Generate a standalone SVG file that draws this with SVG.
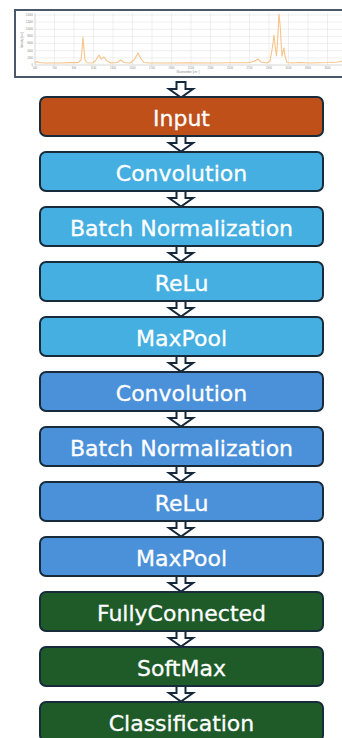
<svg xmlns="http://www.w3.org/2000/svg" width="342" height="738" viewBox="0 0 342 738">
  <defs>
    <style>
      .box { stroke: #172b3a; stroke-width: 2; }
      .lbl { font-family: "DejaVu Sans", "Liberation Sans", sans-serif; font-size: 22px; fill: #ffffff; stroke: #ffffff; stroke-width: 0.3; text-anchor: middle; }
      .inp { fill: #c0501a; }
      .b1 { fill: #45afe1; }
      .b2 { fill: #4b91d9; }
      .gr { fill: #1e5b28; }
      .arr { fill: #ffffff; stroke: #14283a; stroke-width: 2; stroke-linejoin: miter; }
      .grid { stroke: #e4e4e4; stroke-width: 0.6; fill: none; }
      .tick { font-family: "Liberation Sans", sans-serif; font-size: 2.6px; fill: #8a8a8a; text-anchor: middle; }
    </style>
    <path id="arrow" d="M-4.5,0 H4.5 V7 H12 L0,15.5 L-12,7 H-4.5 Z"/>
  </defs>

  <rect width="342" height="738" fill="#ffffff"/>

  <g id="spectrum">
    <rect x="15" y="10" width="340" height="67" fill="#ffffff" stroke="#4a5868" stroke-width="2"/>
    <g class="grid">
      <path d="M54.5,13V65M74,13V65M93.5,13V65M113,13V65M132.5,13V65M152,13V65M171.5,13V65M191,13V65M210.5,13V65M230,13V65M249.5,13V65M269,13V65M288.5,13V65M308,13V65M327.5,13V65"/>
      <path d="M35,15H342M35,22.1H342M35,29.3H342M35,36.4H342M35,43.6H342M35,50.7H342M35,57.9H342"/>
    </g>
    <path d="M35,13V65H342" fill="none" stroke="#bdbdbd" stroke-width="0.6"/>
    <polyline fill="none" stroke="#f7c489" stroke-width="1.1" stroke-linejoin="round"
      points="35,63 37,61.5 39,62.5 45,63 60,63 70,62.6 78,62.6 81,60 82,50 83,37 84,50 85,60 87,62.8 93,63 96,60 99,55 101,59 102,58.5 104,57 107,61 111,63 117,62.5 121,60 124,62.5 130,63 134,60 138,53 141,59 144,62.5 150,63 170,63 190,62.7 210,63 230,62.8 248,62.8 254,61.5 258,59 261,62 267,63 270,61 272,50 274,35 275,45 276.5,56 277.5,42 278.5,24 279,14 279.8,22 280.5,30 281.2,45 282,56 283,52 284,48 285,56 287,62.5 292,63 300,62.5 310,63 320,62.7 330,62.5 338,62 342,61"/>
    <g class="tick">
      <text x="35" y="69">500</text><text x="54.5" y="69">700</text><text x="74" y="69">900</text>
      <text x="93.5" y="69">1100</text><text x="113" y="69">1300</text><text x="132.5" y="69">1500</text>
      <text x="152" y="69">1700</text><text x="171.5" y="69">1900</text><text x="191" y="69">2100</text>
      <text x="210.5" y="69">2300</text><text x="230" y="69">2500</text><text x="249.5" y="69">2700</text>
      <text x="269" y="69">2900</text><text x="288.5" y="69">3100</text><text x="308" y="69">3300</text>
      <text x="327.5" y="69">3500</text>
      <text x="188" y="72.5">Wavenumber [cm⁻¹]</text>
    </g>
    <g class="tick" style="text-anchor:end">
      <text x="33" y="65.8">0</text><text x="33" y="58.7">2000</text><text x="33" y="51.5">4000</text>
      <text x="33" y="44.4">6000</text><text x="33" y="37.2">8000</text><text x="33" y="30.1">10000</text>
      <text x="33" y="22.9">12000</text><text x="33" y="15.8">14000</text>
    </g>
    <text class="tick" transform="translate(23,40) rotate(-90)">Intensity [a.u.]</text>
  </g>

  <g id="connectors" class="arr">
    <use href="#arrow" x="181" y="82"/>
    <use href="#arrow" x="181" y="136"/>
    <use href="#arrow" x="181" y="191"/>
    <use href="#arrow" x="181" y="246"/>
    <use href="#arrow" x="181" y="301"/>
    <use href="#arrow" x="181" y="356"/>
    <use href="#arrow" x="181" y="411"/>
    <use href="#arrow" x="181" y="466"/>
    <use href="#arrow" x="181" y="521"/>
    <use href="#arrow" x="181" y="576"/>
    <use href="#arrow" x="181" y="631"/>
    <use href="#arrow" x="181" y="686"/>
  </g>

  <g id="input"><rect class="box inp" x="40" y="97" width="283" height="39" rx="6"/><text class="lbl" x="181.5" y="126">Input</text></g>
  <g id="conv1"><rect class="box b1" x="40" y="152" width="283" height="39" rx="6"/><text class="lbl" x="181.5" y="181">Convolution</text></g>
  <g id="bn1"><rect class="box b1" x="40" y="207" width="283" height="39" rx="6"/><text class="lbl" x="181.5" y="236">Batch Normalization</text></g>
  <g id="relu1"><rect class="box b1" x="40" y="262" width="283" height="39" rx="6"/><text class="lbl" x="181.5" y="291">ReLu</text></g>
  <g id="maxpool1"><rect class="box b1" x="40" y="317" width="283" height="39" rx="6"/><text class="lbl" x="181.5" y="346">MaxPool</text></g>
  <g id="conv2"><rect class="box b2" x="40" y="372" width="283" height="39" rx="6"/><text class="lbl" x="181.5" y="401">Convolution</text></g>
  <g id="bn2"><rect class="box b2" x="40" y="427" width="283" height="39" rx="6"/><text class="lbl" x="181.5" y="456">Batch Normalization</text></g>
  <g id="relu2"><rect class="box b2" x="40" y="482" width="283" height="39" rx="6"/><text class="lbl" x="181.5" y="511">ReLu</text></g>
  <g id="maxpool2"><rect class="box b2" x="40" y="537" width="283" height="39" rx="6"/><text class="lbl" x="181.5" y="566">MaxPool</text></g>
  <g id="fc"><rect class="box gr" x="40" y="592" width="283" height="39" rx="6"/><text class="lbl" x="181.5" y="621">FullyConnected</text></g>
  <g id="softmax"><rect class="box gr" x="40" y="647" width="283" height="39" rx="6"/><text class="lbl" x="181.5" y="676">SoftMax</text></g>
  <g id="classification"><rect class="box gr" x="40" y="702" width="283" height="39" rx="6"/><text class="lbl" x="181.5" y="731">Classification</text></g>
</svg>
